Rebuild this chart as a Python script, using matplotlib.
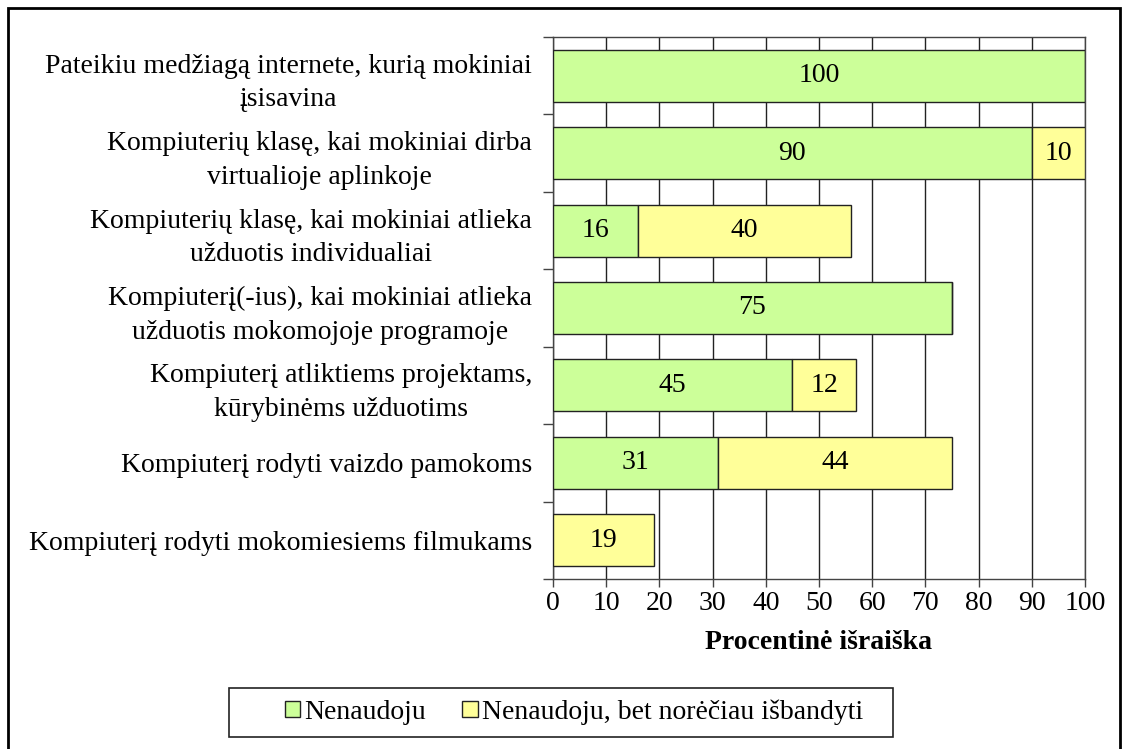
import numpy as np
import matplotlib
import matplotlib.pyplot as plt
from matplotlib.patches import Rectangle

matplotlib.use("Agg")

plt.rcParams['font.family'] = ['Liberation Serif', 'DejaVu Serif']

# Data
categories = [
    "Pateikiu medžiagą internete, kurią mokiniai\nįsisavina",
    "Kompiuterių klasę, kai mokiniai dirba\nvirtualioje aplinkoje",
    "Kompiuterių klasę, kai mokiniai atlieka\nužduotis individualiai",
    "Kompiuterį(-ius), kai mokiniai atlieka\nužduotis mokomojoje programoje",
    "Kompiuterį atliktiems projektams,\nkūrybinėms užduotims",
    "Kompiuterį rodyti vaizdo pamokoms",
    "Kompiuterį rodyti mokomiesiems filmukams",
]
nenaudoju = [100, 90, 16, 75, 45, 31, 0]
noreciau = [0, 10, 40, 0, 12, 44, 19]
series_names = ["Nenaudoju", "Nenaudoju, bet norėčiau išbandyti"]
colors = ["#CCFF99", "#FFFF99"]
xticks = list(range(0, 101, 10))

FS = 20
W, H = 1128, 749

fig = plt.figure(figsize=(11.28, 7.49), dpi=100)
ax = fig.add_axes([0.4902, 0.2270, 0.4717, 0.7236])

y = np.arange(len(categories))
h = 0.67
b1 = ax.barh(y, nenaudoju, height=h, color=colors[0], edgecolor="#222222",
             linewidth=1, label=series_names[0], zorder=3)
b2 = ax.barh(y, noreciau, height=h, left=nenaudoju, color=colors[1],
             edgecolor="#222222", linewidth=1, label=series_names[1], zorder=3)

# values inside segments
for bars in (b1, b2):
    for bar in bars:
        w = bar.get_width()
        if w > 0:
            ax.text(bar.get_x() + w / 2, bar.get_y() + bar.get_height() / 2,
                    f"{w:g}", ha="center", va="center", fontsize=FS, zorder=4)

ax.set_xlim(0, 100)
ax.set_ylim(len(categories) - 0.5, -0.5)
ax.set_xticks(xticks)
ax.tick_params(axis="x", labelsize=FS, length=6, width=1, color="#444444",
               direction="out", pad=3)

ax.set_yticks(y)
ax.set_yticklabels(categories, fontsize=FS, multialignment="center",
                   linespacing=1.45)
ax.tick_params(axis="y", which="major", length=0, pad=15)
ax.set_yticks(np.arange(-0.5, len(categories), 1.0), minor=True)
ax.tick_params(axis="y", which="minor", length=7, width=1, color="#444444",
               direction="out")

ax.xaxis.grid(True, color="#222222", linewidth=1, zorder=0)
ax.set_axisbelow(True)
for s in ax.spines.values():
    s.set_color("#444444")
    s.set_linewidth(1)

ax.set_xlabel("Procentinė išraiška", fontsize=FS, fontweight="bold",
              labelpad=10)

# legend without its own frame, box drawn separately
leg = fig.legend(handles=[b1, b2], labels=series_names, loc="center",
                 bbox_to_anchor=(574 / W, 1 - 712 / H), ncol=2, fontsize=FS,
                 frameon=False,
                 handlelength=0.55, handleheight=0.55, handletextpad=0.15,
                 columnspacing=1.3, borderpad=0, borderaxespad=0)
fig.patches.append(Rectangle((229 / W, 1 - 737 / H), 664 / W, 49 / H,
                             transform=fig.transFigure, fill=False,
                             edgecolor="#222222", linewidth=1.2))

# outer frame
fig.patches.append(Rectangle((8 / W, -0.05), 1112 / W, 1.05 - 8 / H,
                             transform=fig.transFigure, fill=False,
                             edgecolor="black", linewidth=2))

plt.savefig("out.png", dpi=100, facecolor="white")
plt.close()
